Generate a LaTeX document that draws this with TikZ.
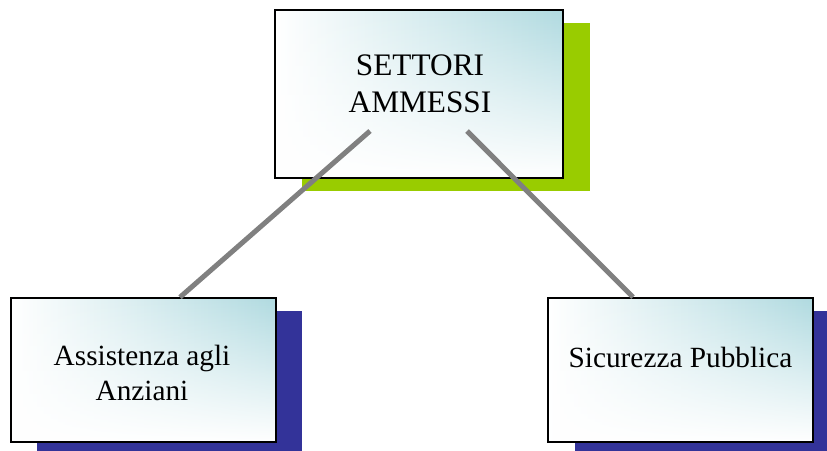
\documentclass[tikz,border=0pt]{standalone}
\usepackage{fontspec}
\setmainfont{Liberation Serif}
\usetikzlibrary{fadings}
\definecolor{tealx}{RGB}{176,218,224}
\definecolor{shgreen}{RGB}{153,204,0}
\definecolor{shblue}{RGB}{51,51,153}
\definecolor{conngray}{RGB}{128,128,128}
\tikzfading[name=fadeup, top color=transparent!100, middle color=transparent!75, bottom color=transparent!0]
\tikzset{
  box/.style={rectangle, draw=black, line width=1.6pt, left color=white, right color=tealx,
    path picture={\fill[white, path fading=fadeup] (path picture bounding box.south west) rectangle (path picture bounding box.north east);}},
  bigbox/.style={box, minimum width=288pt, minimum height=168pt, inner sep=0pt},
  smallbox/.style={box, minimum width=265pt, minimum height=144pt, inner sep=0pt},
  shadowbig/.style={rectangle, draw=none, fill=shgreen, minimum width=288pt, minimum height=168pt, inner sep=0pt},
  shadowsmall/.style={rectangle, draw=none, fill=shblue, minimum width=265pt, minimum height=144pt, inner sep=0pt},
  conn/.style={draw=conngray, line width=5pt},
  lbl/.style={align=center, inner sep=0pt, font=\fontsize{29.3}{35}\selectfont},
  biglbl/.style={align=center, inner sep=0pt, font=\fontsize{31.3}{37}\selectfont}
}
\begin{document}
\begin{tikzpicture}[x=1pt,y=-1pt]
\useasboundingbox (0,0) rectangle (827,450);
\clip (0,0) rectangle (827,450);
\fill[white] (0,0) rectangle (827,450);
% shadows
\node[shadowbig] (shtop) at (446,107) {};
\node[shadowsmall] (shleft) at (169.5,383) {};
\node[shadowsmall] (shright) at (707.5,383) {};
% boxes
\node[bigbox] (top) at (419,94) {};
\node[smallbox] (bleft) at (143.5,370) {};
\node[smallbox] (bright) at (680.5,370) {};
% texts
\node[biglbl] (ttop) at (420,84) {SETTORI\\AMMESSI};
\node[lbl] (tleft) at (142,373) {Assistenza agli\\Anziani};
\node[lbl] (tright) at (680.5,357) {Sicurezza Pubblica};
% connectors
\draw[conn] ([xshift=36.5pt]bleft.north) -- ([xshift=-49pt,yshift=-37pt]top.center);
\draw[conn] ([xshift=-47.5pt]bright.north) -- ([xshift=48pt,yshift=-37pt]top.center);
\end{tikzpicture}
\end{document}
